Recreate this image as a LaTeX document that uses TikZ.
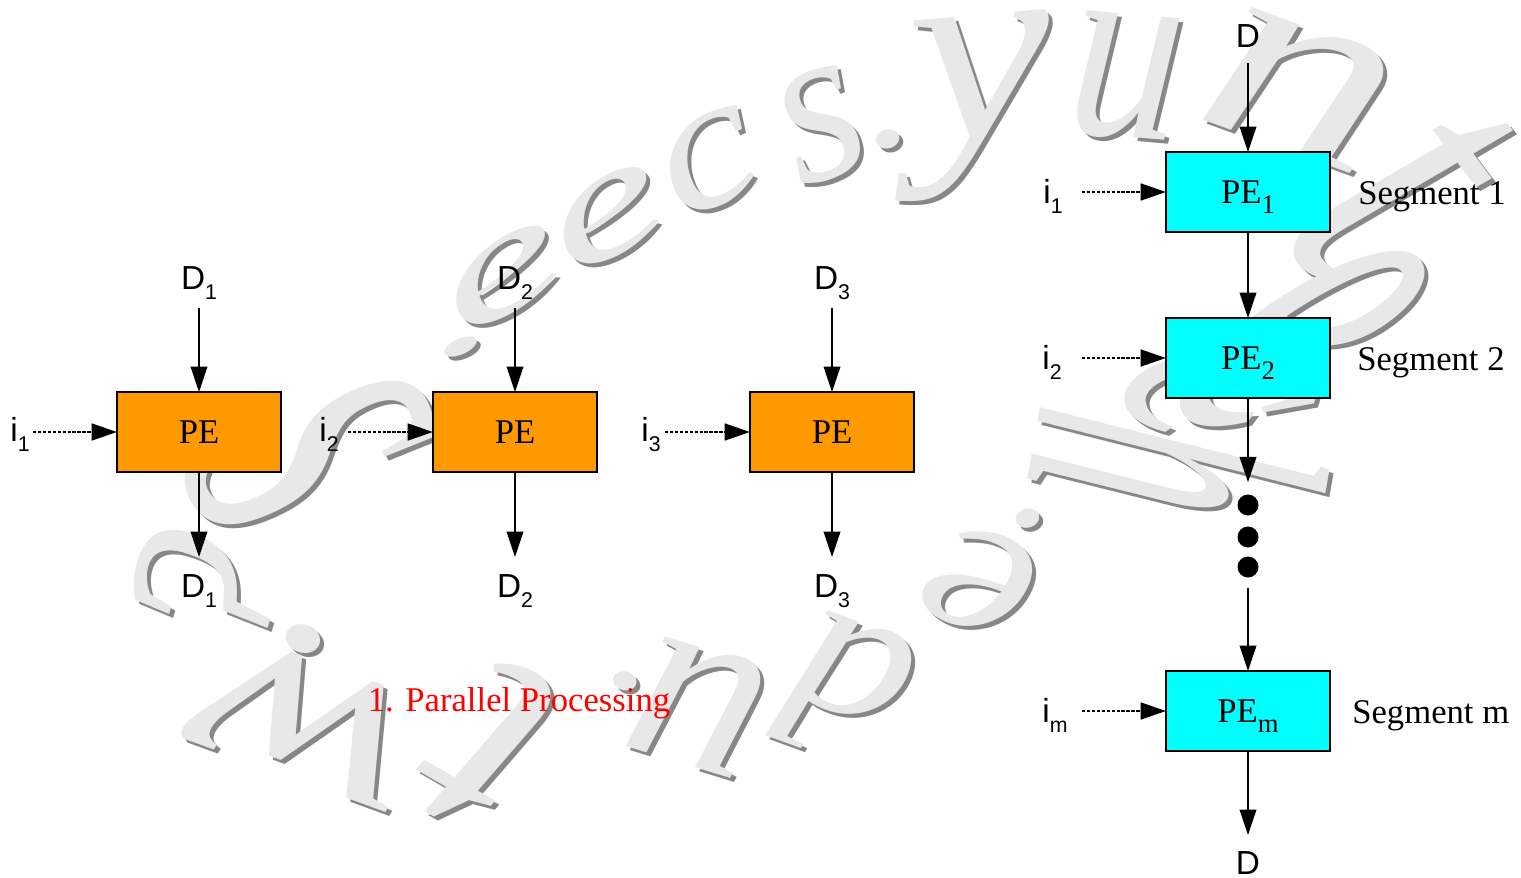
\documentclass[tikz,border=0pt]{standalone}
\usepackage{fontspec}
\setmainfont{Liberation Serif}
\newfontfamily\arialfont{Liberation Sans}
\usetikzlibrary{arrows.meta}

\definecolor{peorange}{RGB}{255,153,0}
\definecolor{pecyan}{RGB}{0,255,255}
\definecolor{wmfill}{RGB}{232,232,232}
\definecolor{wmshade}{RGB}{135,135,135}

% subscripts that do not change the height of a label
\newcommand\subA[1]{\raisebox{-8pt}[0pt][0pt]{\fontsize{16}{18}\selectfont #1}}
\newcommand\subT[1]{\raisebox{-7.5pt}[0pt][0pt]{\fontsize{20}{22}\selectfont #1}}

\tikzset{
  box/.style={draw=black, line width=1.5pt, minimum width=123pt, minimum height=60pt,
    inner sep=0pt, outer sep=0pt, font=\fontsize{26}{30}\selectfont},
  pebox/.style={box, fill=peorange},
  segbox/.style={box, fill=pecyan},
  lbl/.style={font=\arialfont\fontsize{25}{30}\selectfont, inner sep=0pt, anchor=base},
  seglbl/.style={font=\fontsize{26}{30}\selectfont, inner sep=0pt, anchor=base west},
  caption/.style={font=\fontsize{26}{30}\selectfont, text=red, inner sep=0pt, anchor=base},
  arr/.style={line width=1.1pt, -{Triangle[length=19pt,width=12.5pt]}},
  darr/.style={line width=2pt, dash pattern=on 2.5pt off 1.2pt,
    -{Triangle[length=19pt,width=12.5pt]}},
  bigdot/.style={circle, fill=black, minimum size=15.75pt, inner sep=0pt},
  wmglyph/.style={font=\itshape\fontsize{100}{100}\selectfont, inner sep=0pt, text=wmfill},
  wmshadow/.style={wmglyph, text=wmshade},
}

\begin{document}
\begin{tikzpicture}[x=0.75pt, y=-0.75pt]
\useasboundingbox (0,0) rectangle (1521,878);
\fill[white] (0,0) rectangle (1521,878);

% ---- background lettering set round an ellipse ----
% x / y / rotation / stretch along baseline / stretch across / glyph
\def\wmlist{468/344/24/2.2/1.0/., 504/278/30/2.2/1.1/e, 608/218/27/2.0/1.2/e,
  710/162/24/1.7/1.4/c, 822/125/20/1.6/1.7/s, 893/138/15/1.5/1.2/.,
  985/105/5/2.4/2.0/y, 1126/77/-5/1.7/2.0/u, 1300/88/-20/2.8/2.0/n,
  1400/190/-53/2.2/3.3/t, 1300/335/-52/1.7/4.4/e, 1220/385/-75/1.5/3.0/c,
  1180/470/-100/1.3/3.2/h, 1023/520/-165/1.5/1.2/., 980/582/155/1.8/1.6/e,
  847/690/160/1.8/1.5/d, 698/706/163/2.0/1.9/u, 620/680/165/1.5/1.2/.,
  490/748/150/2.5/2.3/t, 306/720/160/2.6/1.9/w, 228/605/73/1.8/2.2/?,
  310/452/-63/2.0/4.0/s}
\foreach \gx/\gy/\gr/\ga/\gb/\gc [count=\k] in \wmlist
  \node[wmshadow, rotate=\gr, xscale=\ga, yscale=\gb] (wms\k) at ({\gx+4},{\gy+4}) {\gc};
\foreach \gx/\gy/\gr/\ga/\gb/\gc [count=\k] in \wmlist
  \node[wmglyph, rotate=\gr, xscale=\ga, yscale=\gb] (wmg\k) at (\gx,\gy) {\gc};

% ---- parallel processing: three independent elements ----
\node[pebox] (pa) at (199,432) {PE};
\node[pebox] (pb) at (515,432) {PE};
\node[pebox] (pc) at (832,432) {PE};

\node[lbl] (dta) at (199,289) {D\subA{1}};
\node[lbl] (dtb) at (515,289) {D\subA{2}};
\node[lbl] (dtc) at (832,289) {D\subA{3}};
\node[lbl] (dba) at (199,597) {D\subA{1}};
\node[lbl] (dbb) at (515,597) {D\subA{2}};
\node[lbl] (dbc) at (832,597) {D\subA{3}};

\node[lbl] (ila) at (20,441) {i\subA{1}};
\node[lbl] (ilb) at (329,441) {i\subA{2}};
\node[lbl] (ilc) at (651,441) {i\subA{3}};

\coordinate (ta) at (199,308);
\coordinate (tb) at (515,308);
\coordinate (tc) at (832,308);
\coordinate (ba) at (199,557);
\coordinate (bb) at (515,557);
\coordinate (bc) at (832,557);
\coordinate (sa) at (33,432);
\coordinate (sb) at (348,432);
\coordinate (sc) at (665,432);

\draw[arr] (ta) -- (pa.north);
\draw[arr] (tb) -- (pb.north);
\draw[arr] (tc) -- (pc.north);
\draw[arr] (pa.south) -- (ba);
\draw[arr] (pb.south) -- (bb);
\draw[arr] (pc.south) -- (bc);
\draw[darr] (sa) -- (pa.west);
\draw[darr] (sb) -- (pb.west);
\draw[darr] (sc) -- (pc.west);

\node[caption] (cap) at (519,711) {1. Parallel Processing};

% ---- pipeline: chain of segments ----
\node[segbox] (sg1) at (1248,192) {PE\subT{1}};
\node[segbox] (sg2) at (1248,358) {PE\subT{2}};
\node[segbox] (sgm) at (1248,711) {PE\subT{m}};

\node[seglbl] (nm1) at (1358,204) {Segment 1};
\node[seglbl] (nm2) at (1357,370) {Segment 2};
\node[seglbl] (nmm) at (1352,723) {Segment m};

\node[lbl] (ir1) at (1053,203) {i\subA{1}};
\node[lbl] (ir2) at (1052,369) {i\subA{2}};
\node[lbl] (irm) at (1055,722) {i\subA{m}};

\node[lbl] (din) at (1248,47) {D};
\node[lbl] (dout) at (1248,874) {D};

\node[bigdot] (dd1) at (1248,505) {};
\node[bigdot] (dd2) at (1248,537) {};
\node[bigdot] (dd3) at (1248,567) {};

\coordinate (rin) at (1248,63);
\coordinate (rout) at (1248,835);
\coordinate (r1) at (1082,192);
\coordinate (r2) at (1082,358);
\coordinate (rm) at (1082,711);

\draw[arr] (rin) -- (sg1.north);
\draw[arr] (sg1.south) -- (sg2.north);
\draw[arr, shorten >=9pt] (sg2.south) -- (dd1);
\draw[arr, shorten <=7.5pt] (dd3) -- (sgm.north);
\draw[arr] (sgm.south) -- (rout);
\draw[darr] (r1) -- (sg1.west);
\draw[darr] (r2) -- (sg2.west);
\draw[darr] (rm) -- (sgm.west);
\end{tikzpicture}
\end{document}
